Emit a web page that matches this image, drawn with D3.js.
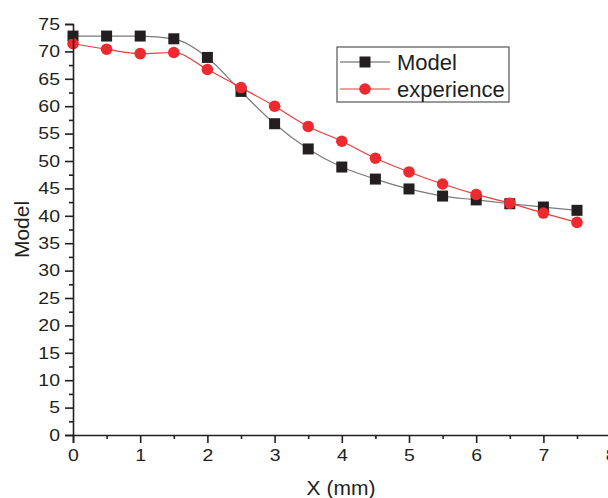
<!DOCTYPE html>
<html>
<head>
<meta charset="utf-8">
<script src="https://cdn.jsdelivr.net/npm/d3@7"></script>
<style>
  body { margin: 0; background: #fff; }
  svg { display: block; font-family: "Liberation Sans", Arial, sans-serif; }
  .wide { transform-box: fill-box; transform: scaleX(1.18); }
</style>
</head>
<body>
<div id="chart"></div>
<script>
const xs = [0, 0.5, 1, 1.5, 2, 2.5, 3, 3.5, 4, 4.5, 5, 5.5, 6, 6.5, 7, 7.5];
const modelVals = [72.8, 72.8, 72.8, 72.3, 68.9, 62.7, 56.8, 52.2, 48.9, 46.7, 44.9, 43.6, 42.9, 42.2, 41.6, 41.0];
const expVals = [71.4, 70.4, 69.6, 69.8, 66.7, 63.4, 60.0, 56.3, 53.6, 50.5, 48.0, 45.8, 43.9, 42.3, 40.5, 38.8];
const xTicks = [0, 1, 2, 3, 4, 5, 6, 7, 8];
const yTicks = d3.range(0, 80, 5);

const W = 608, H = 498;
const margin = { top: 24, left: 73 };
const plotW = 8 * 67.2, plotH = 411;

const x = d3.scaleLinear().domain([0, 8]).range([margin.left, margin.left + plotW]);
const y = d3.scaleLinear().domain([0, 75]).range([margin.top + plotH, margin.top]);

const svg = d3.select("#chart").append("svg")
    .attr("width", W)
    .attr("height", H);

const model = xs.map((d, i) => ({ x: d, y: modelVals[i] }));
const exper = xs.map((d, i) => ({ x: d, y: expVals[i] }));

const line = d3.line()
    .x(d => x(d.x))
    .y(d => y(d.y))
    .curve(d3.curveMonotoneX);

svg.append("path")
    .datum(model)
    .attr("fill", "none")
    .attr("stroke", "#7a7a7a")
    .attr("stroke-width", 1.2)
    .attr("d", line);

svg.append("path")
    .datum(exper)
    .attr("fill", "none")
    .attr("stroke", "#ee3b3b")
    .attr("stroke-width", 1.2)
    .attr("d", line);

svg.selectAll(".sq")
    .data(model)
    .join("rect")
    .attr("x", d => x(d.x) - 5.5)
    .attr("y", d => y(d.y) - 5.5)
    .attr("width", 11)
    .attr("height", 11)
    .attr("fill", "#231f20");

svg.selectAll(".dot")
    .data(exper)
    .join("circle")
    .attr("cx", d => x(d.x))
    .attr("cy", d => y(d.y))
    .attr("r", 5.8)
    .attr("fill", "#ec2a2f");

// axes
const xAxis = svg.append("g")
    .attr("transform", `translate(0, ${y(0)})`)
    .call(d3.axisBottom(x).tickValues(xTicks).tickSize(8).tickPadding(6).tickFormat(d3.format("d")));
xAxis.selectAll("text")
    .attr("class", "wide")
    .style("transform-origin", "center")
    .style("font-size", "16.5px")
    .attr("fill", "#231f20");

svg.append("g")
    .attr("transform", `translate(0, ${y(0)})`)
    .call(d3.axisBottom(x).tickValues(d3.range(0.5, 8, 1)).tickSize(4).tickFormat(""))
    .call(g => g.select(".domain").remove());

const yAxis = svg.append("g")
    .attr("transform", `translate(${x(0)}, 0)`)
    .call(d3.axisLeft(y).tickValues(yTicks).tickSize(8).tickPadding(5));
yAxis.selectAll("text")
    .attr("class", "wide")
    .style("transform-origin", "right center")
    .style("font-size", "16.5px")
    .attr("fill", "#231f20");

svg.append("g")
    .attr("transform", `translate(${x(0)}, 0)`)
    .call(d3.axisLeft(y).tickValues(d3.range(2.5, 75, 5)).tickSize(4).tickFormat(""))
    .call(g => g.select(".domain").remove());

svg.selectAll(".domain, .tick line")
    .attr("stroke", "#231f20")
    .attr("stroke-width", 1.6);

svg.append("text")
    .attr("transform", `translate(29, ${margin.top + plotH / 2}) rotate(-90)`)
    .attr("text-anchor", "middle")
    .style("font-size", "21px")
    .attr("fill", "#231f20")
    .text("Model");

svg.append("text")
    .attr("x", 341)
    .attr("y", 495)
    .attr("text-anchor", "middle")
    .style("font-size", "21px")
    .attr("fill", "#231f20")
    .text("X (mm)");

// legend
const lg = svg.append("g").attr("transform", "translate(337, 47)");
lg.append("rect")
    .attr("width", 172)
    .attr("height", 55)
    .attr("fill", "#fff")
    .attr("stroke", "#555")
    .attr("stroke-width", 1.2);

const legendItems = [
  { name: "Model", color: "#555", shape: "sq" },
  { name: "experience", color: "#ee3b3b", shape: "dot" }
];
legendItems.forEach((d, i) => {
  const cy = 15 + i * 27;
  lg.append("line")
      .attr("x1", 3).attr("x2", 53)
      .attr("y1", cy).attr("y2", cy)
      .attr("stroke", d.color)
      .attr("stroke-width", 1.2);
  if (d.shape === "sq") {
    lg.append("rect").attr("x", 22.5).attr("y", cy - 5.5).attr("width", 11).attr("height", 11).attr("fill", "#231f20");
  } else {
    lg.append("circle").attr("cx", 28).attr("cy", cy).attr("r", 5.8).attr("fill", "#ec2a2f");
  }
  lg.append("text")
      .attr("x", 60)
      .attr("y", cy + 8)
      .style("font-size", "22px")
      .attr("fill", "#231f20")
      .text(d.name);
});
</script>
</body>
</html>
